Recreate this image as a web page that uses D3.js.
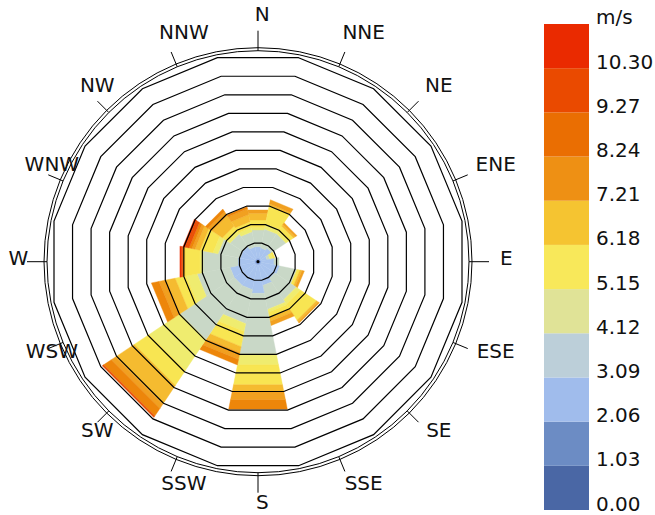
<!DOCTYPE html>
<html>
<head>
<meta charset="utf-8">
<script src="https://cdn.jsdelivr.net/npm/d3@7"></script>
<style>
body { margin: 0; background: #fff; }
text { font-family: "DejaVu Sans", Verdana, sans-serif; fill: #111; }
</style>
</head>
<body>
<svg id="mainsvg" width="655" height="515"></svg>
<script>
const directions = ['N', 'NNE', 'NE', 'ENE', 'E', 'ESE', 'SE', 'SSE',
  'S', 'SSW', 'SW', 'WSW', 'W', 'WNW', 'NW', 'NNW'];
// speed bin edges (m/s), legend tick labels
const speedTicks = [0.00, 1.03, 2.06, 3.09, 4.12, 5.15, 6.18, 7.21, 8.24, 9.27, 10.30];
const speedMax = 11.33;
// legend colours, lowest bin first
const legendColors = ['#4a67a5', '#6c8cc4', '#a0bcec', '#bccfd9', '#e0e397', '#f8e85a',
  '#f5c431', '#ee9014', '#ea6e02', '#ea4a00', '#ea2a00'];
// colours the rose bars are painted with, same bins
const barColors = ['#5a78b4', '#809fdc', '#a9c4ee', '#c9d8c7', '#efec6f', '#f8e552',
  '#f5bb30', '#f1a020', '#ed860a', '#ea5208', '#ea3000'];

// frequency (%) per speed bin, one array per direction
const fN   = [0, 0.22, 0.59, 0.90, 0.12, 0.42, 0.36, 0.18, 0, 0, 0];
const fNNE = [0, 0.16, 0.59, 1.02, 0.27, 0.97, 0.11, 0.22, 0, 0, 0];
const fNE  = [0, 0.16, 0.70, 0.92, 0.16, 0.32, 0.11, 0.11, 0, 0, 0];
const fENE = [0, 0.11, 0.38, 0.16, 0.16, 0.11, 0, 0, 0, 0, 0];
const fE   = [0, 0.16, 0.70, 0.27, 0, 0, 0, 0, 0, 0, 0];
const fESE = [0, 0.16, 1.02, 0.92, 0, 0.16, 0.11, 0.13, 0, 0, 0];
const fSE  = [0, 0.16, 0.92, 1.35, 0.27, 1.02, 0.11, 0.08, 0, 0, 0];
const fSSE = [0, 0.16, 1.13, 1.29, 0.16, 0.27, 0.22, 0.22, 0, 0, 0];
const fS   = [0, 0.16, 1.54, 3.28, 0.57, 1.09, 0.36, 0.45, 0.50, 0, 0];
const fSSW = [0, 0.16, 1.35, 1.83, 0.43, 0.81, 0.32, 0.38, 0.29, 0, 0];
const fSW  = [0, 0.16, 1.35, 3.45, 1.94, 0.97, 1.19, 0.27, 0.49, 0.09, 0];
const fWSW = [0, 0.16, 1.35, 1.78, 0.59, 0.59, 0.49, 0.38, 0.41, 0, 0];
const fW   = [0, 0.16, 0.92, 1.89, 0.16, 0.81, 0.11, 0, 0, 0.08, 0.08];
const fWNW = [0, 0.16, 0.81, 1.19, 0.27, 0.70, 0.27, 0.16, 0.16, 0.22, 0.11];
const fNW  = [0, 0.16, 0.81, 0.81, 0.22, 0.27, 0.65, 0.27, 0.16, 0, 0];
const fNNW = [0, 0.16, 0.65, 0.81, 0.22, 0.32, 0.38, 0.32, 0.11, 0, 0];
const freqs = [fN, fNNE, fNE, fENE, fE, fESE, fSE, fSSE, fS, fSSW, fSW, fWSW, fW, fWNW, fNW, fNNW];

const rings = d3.range(1, 12); // grid rings, %

const svg = d3.select('#mainsvg');
const cx = 258, cy = 261.7;
const half = Math.PI / 16; // half sector, 11.25 deg

const rScale = d3.scaleLinear().domain([0, 11]).range([0, 204]);

// point at compass angle a (rad) and apothem value v
const pt = (a, r) => {
  const R = r / Math.cos(half);
  return [cx + R * Math.sin(a), cy - R * Math.cos(a)];
};
const line = d3.line();

// bars
const gBars = svg.append('g');
freqs.forEach((row, i) => {
  const a = i * Math.PI / 8;
  let acc = 0;
  row.forEach((v, b) => {
    if (v <= 0) return;
    const r0 = rScale(acc), r1 = rScale(acc + v);
    acc += v;
    gBars.append('path')
      .attr('d', line([pt(a - half, r0), pt(a - half, r1), pt(a + half, r1), pt(a + half, r0)]) + 'Z')
      .attr('fill', barColors[b])
      .attr('stroke', barColors[b])
      .attr('stroke-width', 0.4);
  });
});

// grid polygons
const gGrid = svg.append('g');
rings.forEach(k => {
  const pts = d3.range(16).map(j => pt(j * Math.PI / 8 + half, rScale(k)));
  gGrid.append('path')
    .attr('d', line(pts) + 'Z')
    .attr('fill', 'none')
    .attr('stroke', '#000')
    .attr('stroke-width', 1.2);
});
[211, 214].forEach(r => {
  gGrid.append('circle').attr('cx', cx).attr('cy', cy).attr('r', r)
    .attr('fill', 'none').attr('stroke', '#000').attr('stroke-width', 1);
});
svg.append('circle').attr('cx', cx).attr('cy', cy).attr('r', 1.6).attr('fill', '#000');

// ticks and direction labels
directions.forEach((d, i) => {
  const a = i * Math.PI / 8;
  const s = Math.sin(a), c = Math.cos(a);
  const outer = i % 4 === 0 ? 231 : 227;
  gGrid.append('line')
    .attr('x1', cx + 211 * s).attr('y1', cy - 211 * c)
    .attr('x2', cx + outer * s).attr('y2', cy - outer * c)
    .attr('stroke', '#000').attr('stroke-width', 1);
  const shift = (d.length - 1) * (s < -0.01 ? 7.5 : s > 0.01 ? 4 : 0);
  svg.append('text')
    .attr('x', cx + 4.3 + 244 * s + shift)
    .attr('y', cy - 4.3 - 244 * c)
    .attr('dy', '0.36em')
    .attr('text-anchor', 'middle')
    .attr('font-size', 20)
    .text(d);
});

// colour bar legend
const edges = speedTicks.concat([speedMax]);
const lScale = d3.scaleLinear().domain([0, speedMax]).range([510, 24]);
const gLeg = svg.append('g');
legendColors.forEach((col, i) => {
  gLeg.append('rect')
    .attr('x', 544).attr('width', 45)
    .attr('y', lScale(edges[i + 1]))
    .attr('height', lScale(edges[i]) - lScale(edges[i + 1]))
    .attr('fill', col);
});
const axis = d3.axisRight(lScale)
  .tickValues(speedTicks)
  .tickFormat(d3.format('.2f'))
  .tickSize(0)
  .tickPadding(7);
const gAxis = svg.append('g').attr('transform', 'translate(589,0)').call(axis);
gAxis.select('.domain').remove();
gAxis.selectAll('text')
  .attr('dy', 0)
  .attr('font-size', 20)
  .attr('font-family', '"DejaVu Sans", Verdana, sans-serif')
  .attr('fill', '#111');
svg.append('text')
  .attr('x', 596).attr('y', 24)
  .attr('font-size', 20)
  .text('m/s');
</script>
</body>
</html>
